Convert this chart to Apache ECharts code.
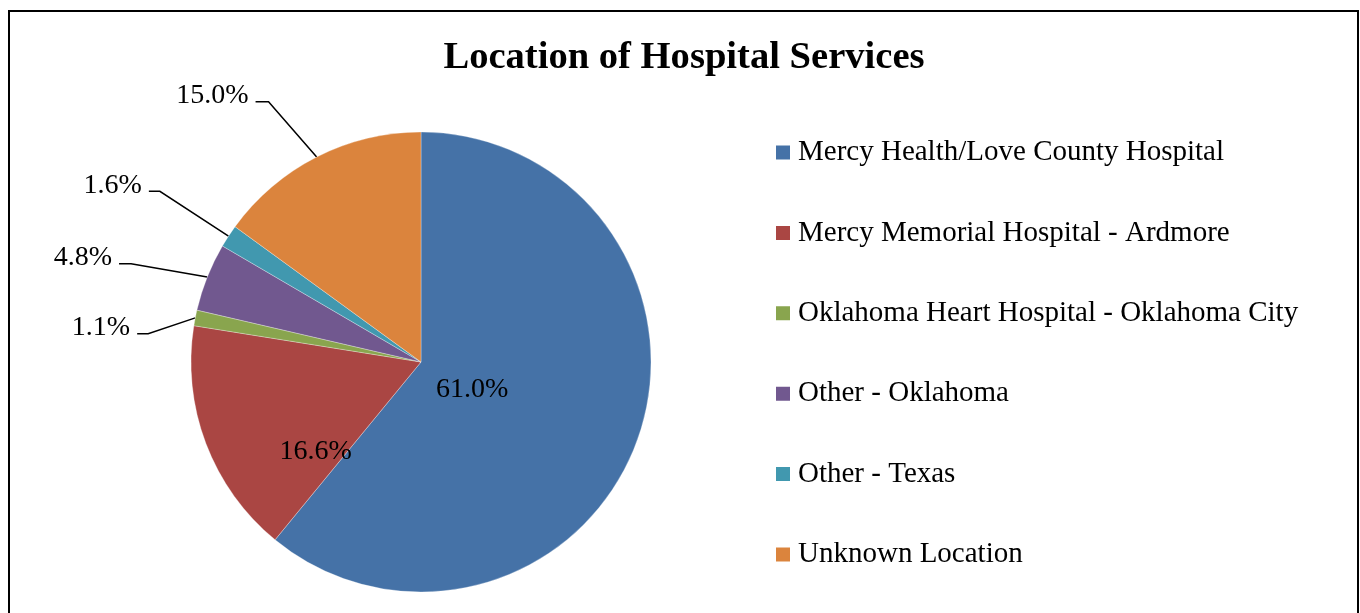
<!DOCTYPE html>
<html>
<head>
<meta charset="utf-8">
<script src="https://cdn.jsdelivr.net/npm/echarts@6/dist/echarts.min.js"></script>
<style>html,body{margin:0;padding:0;background:#fff}#c{width:1360px;height:613px}</style>
</head>
<body>
<div id="c"></div>
<script>
const categories = ["Mercy Health/Love County Hospital","Mercy Memorial Hospital - Ardmore","Oklahoma Heart Hospital - Oklahoma City","Other - Oklahoma","Other - Texas","Unknown Location"];
const values = [61.0, 16.6, 1.1, 4.8, 1.6, 15.0];
const colors = ["#4572A7","#AA4643","#89A54E","#71588F","#4198AF","#DB843D"];
const insideLabels = [true, true, false, false, false, false];
const lineLen = [0, 0, 48, 82, 82, 62];
const lineLen2 = [0, 0, 11, 12, 11, 13];
// label / leader-line elbow nudges [dx, dy]
const labelShift = [[-60, -12], [5, 48], [0, 25], [0, 17], [0, 0], [-20, 0]];

const font = "'Liberation Serif','Times New Roman',serif";
const chart = echarts.init(document.getElementById('c'));
chart.setOption({
  animation: false,
  title: {text: "Location of Hospital Services", left: 679, top: 34, textAlign: 'center',
    textStyle: {fontFamily: font, fontSize: 38.6, fontWeight: 'bold', color: '#000'}},
  legend: {orient: 'vertical', left: 774, top: 138, padding: 0, itemWidth: 16, itemHeight: 16, itemGap: 51.4,
    icon: 'rect', textStyle: {fontFamily: font, fontSize: 29, color: '#000', lineHeight: 29, padding: [0, 0, 0, 2]}},
  graphic: [{type: 'rect', shape: {x: 9, y: 11, width: 1349, height: 610}, style: {fill: 'none', stroke: '#000', lineWidth: 2}, silent: true}],
  series: [{
    type: 'pie', center: [421, 362], radius: 230, startAngle: 90, clockwise: true,
    avoidLabelOverlap: false,
    itemStyle: {borderColor: '#fff', borderWidth: 0.3},
    label: {fontFamily: font, fontSize: 28, color: '#000', formatter: p => p.value.toFixed(1) + '%'},
    labelLine: {lineStyle: {color: '#000', width: 1.5}},
    labelLayout: p => {
      const i = p.dataIndex, s = labelShift[i];
      if (insideLabels[i]) return {dx: s[0], dy: s[1]};
      const pts = p.labelLinePoints;
      if (!pts) return {};
      return {
        dx: s[0], dy: s[1] - 6,
        labelLinePoints: [
          [pts[0][0], pts[0][1]],
          [pts[1][0] + s[0], pts[1][1] + s[1]],
          [pts[2][0] + s[0], pts[2][1] + s[1]]
        ]
      };
    },
    data: categories.map((n, i) => ({
      name: n, value: values[i], itemStyle: {color: colors[i]},
      label: insideLabels[i] ? {position: 'inside'} : {position: 'outside', distanceToLabelLine: 7},
      labelLine: insideLabels[i] ? {show: false} : {show: true, length: lineLen[i], length2: lineLen2[i]}
    }))
  }]
});
</script>
</body>
</html>
